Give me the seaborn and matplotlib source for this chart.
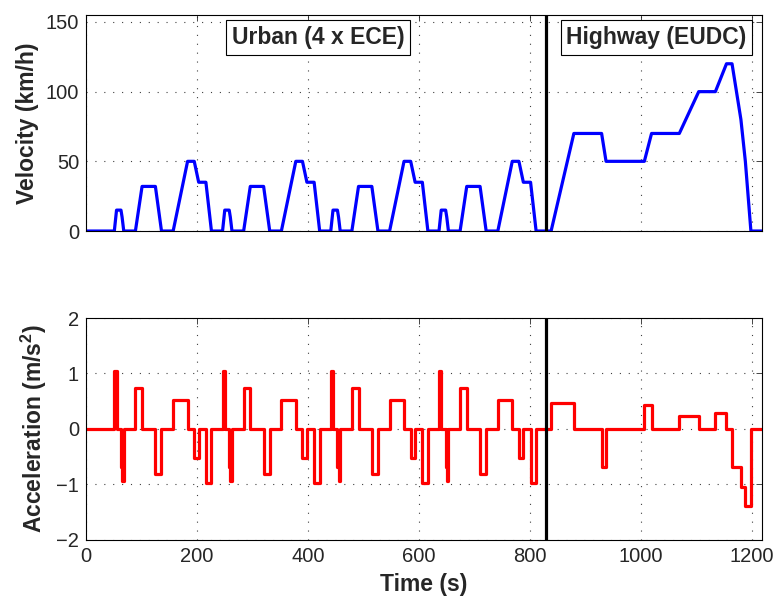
import numpy as np
import pandas as pd
import matplotlib
matplotlib.use("Agg")
import matplotlib.pyplot as plt
import seaborn as sns

# ---- data ----
# one ECE urban cycle: breakpoints (s, km/h)
ece_t = [0, 11, 15, 23, 25, 28, 49, 61, 85, 96, 117, 143, 155, 163, 176, 186]
ece_v = [0, 0, 15, 15, 10, 0, 0, 32, 32, 0, 0, 50, 50, 35, 35, 0]
# ECE acceleration steps (segment start s, m/s^2)
ece_at = [0, 11, 15, 23, 25, 28, 49, 61, 85, 96, 117, 143, 155, 163, 176, 186]
ece_a = [0, 1.04, 0, -0.69, -0.93, 0, 0.74, 0, -0.81, 0, 0.53, 0, -0.52, 0, -0.97, 0]
ece_starts = [40, 235, 430, 625]

# EUDC highway cycle
eudc_t = [0, 20, 61, 111, 119, 188, 201, 251, 286, 316, 336, 346, 362, 370, 380, 400]
eudc_v = [0, 0, 70, 70, 50, 50, 70, 70, 100, 100, 120, 120, 80, 50, 0, 0]
eudc_at = [0, 20, 61, 111, 119, 188, 201, 251, 286, 316, 336, 346, 362, 370, 380, 400]
eudc_a = [0, 0.47, 0, -0.69, 0, 0.43, 0, 0.24, 0, 0.28, 0, -0.69, -1.04, -1.39, 0, 0]
eudc_start = 818

divider_t = 829
xticks = [0, 200, 400, 600, 800, 1000, 1200]
v_ticks = [0, 50, 100, 150]
a_ticks = [-2, -1, 0, 1, 2]

# ---- assemble series ----
vt, vv, at_, aa = [0], [0], [0], [0]
for s in ece_starts:
    vt += [s + t for t in ece_t]
    vv += ece_v
    at_ += [s + t for t in ece_at]
    aa += ece_a
vt += [eudc_start + t for t in eudc_t]
vv += eudc_v
at_ += [eudc_start + t for t in eudc_at]
aa += eudc_a
vel = pd.DataFrame({"t": vt, "v": vv})
acc = pd.DataFrame({"t": at_, "a": aa})

# ---- style ----
sns.set_style("white")
plt.rcParams["font.family"] = ["Liberation Sans", "DejaVu Sans"]
plt.rcParams["mathtext.fontset"] = "custom"
plt.rcParams["mathtext.rm"] = "Liberation Sans"
plt.rcParams["mathtext.bf"] = "Liberation Sans:bold"

fig = plt.figure(figsize=(7.77, 6.04), dpi=100)
ax1 = fig.add_axes([0.1107, 0.6175, 0.870, 0.3577])
ax2 = fig.add_axes([0.1107, 0.1060, 0.870, 0.3675])

sns.lineplot(data=vel, x="t", y="v", ax=ax1, color="#0000ff", lw=2.3, sort=False)
sns.lineplot(data=acc, x="t", y="a", ax=ax2, color="#ff0000", lw=2.3, sort=False,
             drawstyle="steps-post")

grid_kw = dict(color="0.25", lw=0.8, linestyle=(0, (1, 7)))
for ax in (ax1, ax2):
    ax.set_xlim(0, 1218)
    ax.set_xticks(xticks)
    ax.grid(True, **grid_kw)
    ax.axvline(divider_t, color="black", lw=2.3, zorder=5)
    ax.tick_params(direction="in", length=4.5, width=0.6, top=True, right=True,
                   labelsize=14.5, pad=5)
    for sp in ax.spines.values():
        sp.set_linewidth(0.8)
        sp.set_color("black")
    ax.set_axisbelow(True)

ax1.set_ylim(0, 155)
ax1.set_yticks(v_ticks)
ax1.tick_params(labelbottom=False)
ax1.set_xlabel("")
ax1.set_ylabel("Velocity (km/h)", fontsize=16.5, fontweight="bold")
ax1.yaxis.set_label_coords(-0.069, 0.5)

ax2.set_ylim(-2, 2)
ax2.set_yticks(a_ticks)
ax2.set_yticklabels(["\u22122", "\u22121", "0", "1", "2"])
ax2.set_xlabel("Time (s)", fontsize=16.5, fontweight="bold", labelpad=5)
ax2.set_ylabel(r"Acceleration (m/s$^\mathbf{2}$)", fontsize=16.5, fontweight="bold")
ax2.yaxis.set_label_coords(-0.055, 0.5)

box = dict(boxstyle="square,pad=0.25", fc="white", ec="black", lw=0.8)
ax1.text(418, 139, "Urban (4 x ECE)", ha="center", va="center", fontsize=16.5,
         fontweight="bold", bbox=box)
ax1.text(1028, 139, "Highway (EUDC)", ha="center", va="center", fontsize=16.5,
         fontweight="bold", bbox=box)

fig.savefig("out.png", dpi=100)
